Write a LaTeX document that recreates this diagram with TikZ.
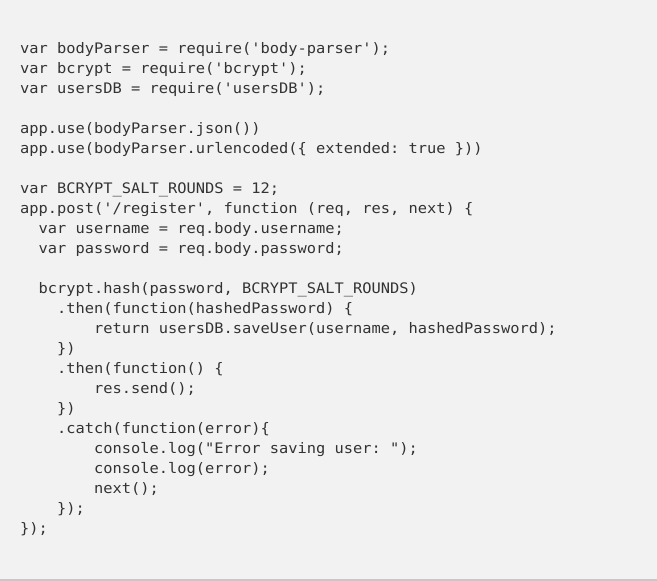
\documentclass[tikz,border=0pt]{standalone}
\usepackage{fontspec}
\setmonofont[FakeStretch=1.06]{DejaVu Sans Mono}
\definecolor{codebg}{HTML}{F2F2F2}
\definecolor{codefg}{HTML}{333333}
\definecolor{rulegray}{HTML}{C8C8C8}
\newlength\cw
\newcommand\codefont{\ttfamily\fontsize{14.5pt}{20pt}\selectfont}
\newcommand\ind[1]{\hspace*{#1\cw}}
\begin{document}
\settowidth{\cw}{\codefont x}%
\begin{tikzpicture}[x=1pt,y=-1pt,
  codeline/.style={anchor=base west,inner sep=0pt,outer sep=0pt,text=codefg,
    font=\codefont}]
\useasboundingbox (0,0) rectangle (657,581);
\fill[codebg] (0,0) rectangle (657,581);
\fill[rulegray] (0,578.5) rectangle (657,581);
\node[codeline] (l1) at (20,53) {var bodyParser = require('body-parser');};
\node[codeline] (l2) at (20,73) {var bcrypt = require('bcrypt');};
\node[codeline] (l3) at (20,93) {var usersDB = require('usersDB');};
\node[codeline] (l5) at (20,133) {app.use(bodyParser.json())};
\node[codeline] (l6) at (20,153) {app.use(bodyParser.urlencoded(\{ extended: true \}))};
\node[codeline] (l8) at (20,193) {var BCRYPT\_SALT\_ROUNDS = 12;};
\node[codeline] (l9) at (20,213) {app.post('/register', function (req, res, next) \{};
\node[codeline] (l10) at (20,233) {\ind{2}var username = req.body.username;};
\node[codeline] (l11) at (20,253) {\ind{2}var password = req.body.password;};
\node[codeline] (l13) at (20,293) {\ind{2}bcrypt.hash(password, BCRYPT\_SALT\_ROUNDS)};
\node[codeline] (l14) at (20,313) {\ind{4}.then(function(hashedPassword) \{};
\node[codeline] (l15) at (20,333) {\ind{8}return usersDB.saveUser(username, hashedPassword);};
\node[codeline] (l16) at (20,353) {\ind{4}\})};
\node[codeline] (l17) at (20,373) {\ind{4}.then(function() \{};
\node[codeline] (l18) at (20,393) {\ind{8}res.send();};
\node[codeline] (l19) at (20,413) {\ind{4}\})};
\node[codeline] (l20) at (20,433) {\ind{4}.catch(function(error)\{};
\node[codeline] (l21) at (20,453) {\ind{8}console.log("Error saving user: ");};
\node[codeline] (l22) at (20,473) {\ind{8}console.log(error);};
\node[codeline] (l23) at (20,493) {\ind{8}next();};
\node[codeline] (l24) at (20,513) {\ind{4}\});};
\node[codeline] (l25) at (20,533) {\});};
\end{tikzpicture}
\end{document}
